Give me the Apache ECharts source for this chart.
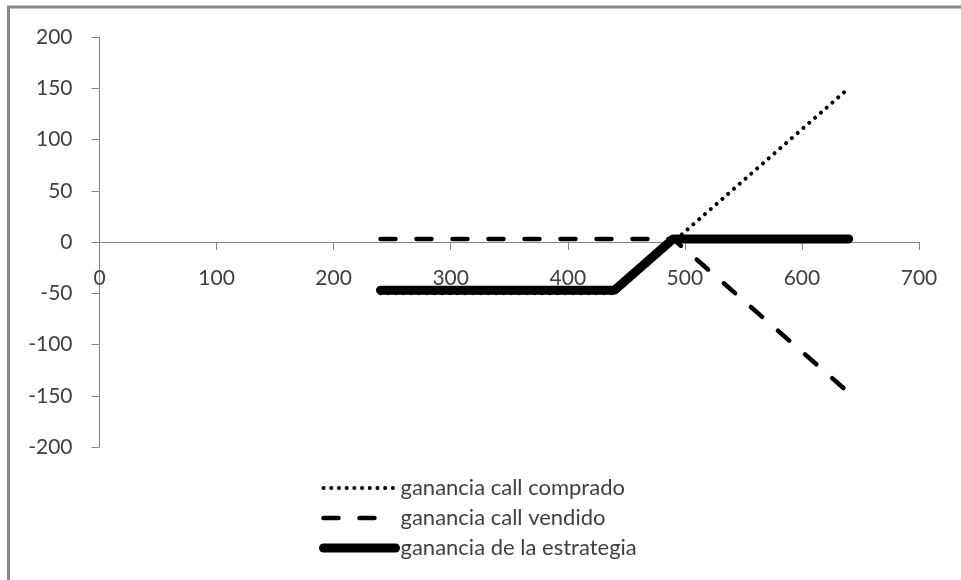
<!DOCTYPE html>
<html>
<head>
<meta charset="utf-8">
<script src="https://cdn.jsdelivr.net/npm/echarts@6/dist/echarts.min.js"></script>
<style>
  html, body { margin: 0; padding: 0; background: #fff; }
  #chart { width: 961px; height: 580px; }
</style>
</head>
<body>
<div id="chart"></div>
<script>
// Underlying price at expiry (kink points of each payoff)
const precios = [240, 440, 490, 640];
// Profit of the bought call, the sold call and the combined spread
const callComprado = [-50, -50, 0, 150];
const callVendido = [3, 3, 3, -147];
const estrategia = [-47, -47, 3, 3];

const nombres = ['ganancia call comprado', 'ganancia call vendido', 'ganancia de la estrategia'];
const xMin = 0, xMax = 700, xStep = 100;
const yMin = -200, yMax = 200, yStep = 50;

const pares = (ys) => precios.map((x, i) => [x, ys[i]]);

const FONT = 'Lato';
const AXIS_GRAY = '#868686';
const TEXT = '#404040';

// plot box
const GRID = { left: 99.5, right: 42, top: 37, bottom: 133 };
const plotH = 580 - GRID.top - GRID.bottom;
// the horizontal axis sits on the zero line, carrying its ticks and labels along
const xAxisOffset = -plotH * (0 - yMin) / (yMax - yMin);

const chart = echarts.init(document.getElementById('chart'));
chart.setOption({
  animation: false,
  backgroundColor: '#fff',
  textStyle: { fontFamily: FONT },
  graphic: [{
    type: 'polyline',
    shape: { points: [[8.5, 580], [8.5, 7], [961, 7]] },
    style: { stroke: '#888', lineWidth: 3, fill: null }
  }],
  grid: Object.assign({ containLabel: false }, GRID),
  legend: {
    orient: 'vertical',
    left: 314,
    top: 472,
    height: 105,
    itemWidth: 72,
    itemHeight: 14,
    itemGap: 8,
    itemStyle: { opacity: 0 },
    lineStyle: { width: 'inherit', type: 'inherit', cap: 'inherit' },
    textStyle: { fontFamily: FONT, fontSize: 22, color: TEXT },
    data: nombres
  },
  xAxis: {
    type: 'value',
    position: 'bottom',
    offset: xAxisOffset,
    min: xMin, max: xMax, interval: xStep,
    axisLine: { show: true, onZero: false, lineStyle: { color: AXIS_GRAY, width: 1 } },
    axisTick: { show: true, inside: false, length: 8, lineStyle: { color: AXIS_GRAY } },
    axisLabel: { fontFamily: FONT, fontSize: 21, color: TEXT, margin: 26 },
    splitLine: { show: false }
  },
  yAxis: {
    type: 'value',
    min: yMin, max: yMax, interval: yStep,
    axisLine: { show: true, onZero: false, lineStyle: { color: AXIS_GRAY, width: 1 } },
    axisTick: { show: true, inside: false, length: 8, lineStyle: { color: AXIS_GRAY } },
    axisLabel: { fontFamily: FONT, fontSize: 21, color: TEXT, margin: 27 },
    splitLine: { show: false }
  },
  series: [
    {
      name: nombres[0], type: 'line', data: pares(callComprado),
      showSymbol: false, symbol: 'none',
      lineStyle: { color: '#000', width: 4, type: [0.1, 7.6], cap: 'round' }
    },
    {
      name: nombres[1], type: 'line', data: pares(callVendido),
      showSymbol: false, symbol: 'none',
      lineStyle: { color: '#000', width: 4.5, type: [15, 21], cap: 'round' }
    },
    {
      name: nombres[2], type: 'line', data: pares(estrategia),
      showSymbol: false, symbol: 'none',
      lineStyle: { color: '#000', width: 9, type: 'solid', cap: 'round', join: 'round' }
    }
  ]
});
</script>
</body>
</html>
